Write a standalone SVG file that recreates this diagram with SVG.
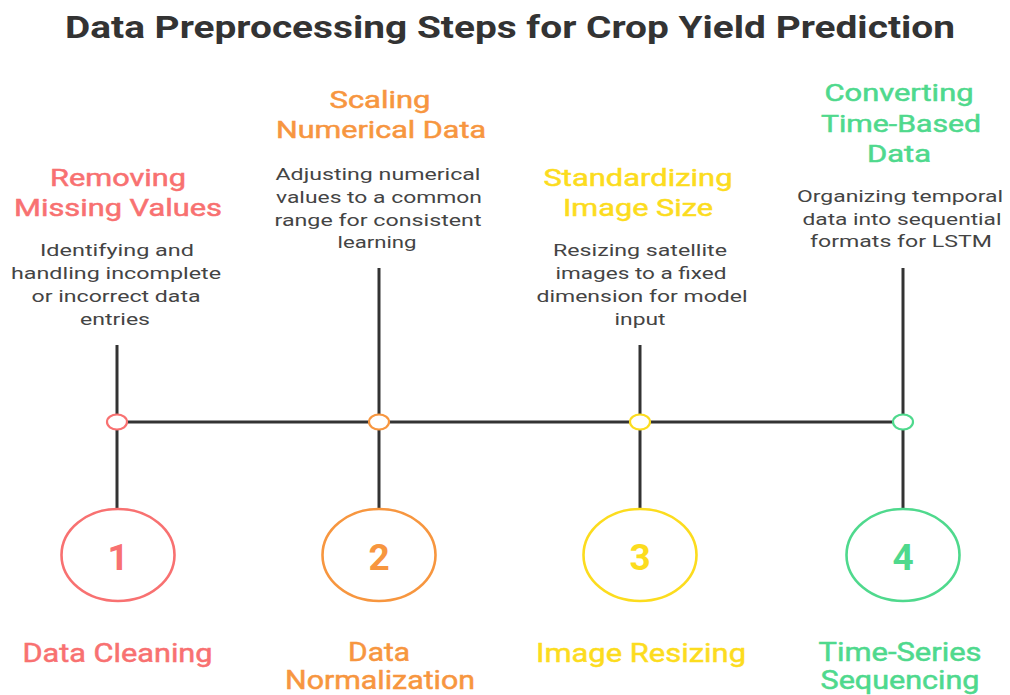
<svg xmlns="http://www.w3.org/2000/svg" width="1010" height="695" viewBox="0 0 1010 695">
  <style>
    .title { font-family: Roboto, "Liberation Sans", sans-serif; font-weight: 700; font-size: 31px; fill: #333333; }
    .head { font-family: Roboto, "Liberation Sans", sans-serif; font-weight: 400; font-size: 23px; text-anchor: middle; stroke-width: 0.5; }
    .desc { font-family: Roboto, "Liberation Sans", sans-serif; font-weight: 400; font-size: 17px; fill: #444444; text-anchor: middle; }
    .label { font-family: Roboto, "Liberation Sans", sans-serif; font-weight: 400; font-size: 25px; text-anchor: middle; stroke-width: 0.5; }
    .num { font-family: Roboto, "Liberation Sans", sans-serif; font-weight: 700; font-size: 37px; text-anchor: middle; }
    .wire { stroke: #333333; stroke-width: 3; fill: none; }
    .dot { fill: #ffffff; stroke-width: 2.2; }
    .ring { fill: #ffffff; stroke-width: 2.6; }
    .c1 { fill: #F87171; } .s1 { stroke: #F87171; }
    .c2 { fill: #F7963F; } .s2 { stroke: #F7963F; }
    .c3 { fill: #FCDC1E; } .s3 { stroke: #FCDC1E; }
    .c4 { fill: #4FD98D; } .s4 { stroke: #4FD98D; }
  </style>
  <rect width="1010" height="695" fill="#ffffff"/>

  <text class="title" x="510" y="38" text-anchor="middle" textLength="890" lengthAdjust="spacingAndGlyphs">Data Preprocessing Steps for Crop Yield Prediction</text>

  <!-- timeline and stems -->
  <g id="connectors">
    <line class="wire" x1="117" y1="422" x2="903" y2="422"/>
    <line class="wire" x1="117" y1="345" x2="117" y2="509"/>
    <line class="wire" x1="379" y1="268" x2="379" y2="509"/>
    <line class="wire" x1="640" y1="345" x2="640" y2="509"/>
    <line class="wire" x1="903" y1="268" x2="903" y2="509"/>
  </g>

  <!-- step 1 -->
  <g id="step1">
    <text class="head c1 s1" x="118" y="186" textLength="136" lengthAdjust="spacingAndGlyphs">Removing</text>
    <text class="head c1 s1" x="118" y="216" textLength="208" lengthAdjust="spacingAndGlyphs">Missing Values</text>
    <text class="desc" x="117" y="256" textLength="154" lengthAdjust="spacingAndGlyphs">Identifying and</text>
    <text class="desc" x="116" y="279" textLength="210" lengthAdjust="spacingAndGlyphs">handling incomplete</text>
    <text class="desc" x="116" y="302" textLength="169" lengthAdjust="spacingAndGlyphs">or incorrect data</text>
    <text class="desc" x="115" y="325" textLength="70" lengthAdjust="spacingAndGlyphs">entries</text>
    <ellipse class="dot s1" cx="117" cy="422" rx="10" ry="7.5"/>
    <ellipse class="ring s1" cx="118" cy="555" rx="56.5" ry="46"/>
    <text class="num c1" x="118" y="570">1</text>
    <text class="label c1 s1" x="117.5" y="662" textLength="190" lengthAdjust="spacingAndGlyphs">Data Cleaning</text>
  </g>

  <!-- step 2 -->
  <g id="step2">
    <text class="head c2 s2" x="380" y="108" textLength="101" lengthAdjust="spacingAndGlyphs">Scaling</text>
    <text class="head c2 s2" x="381" y="138" textLength="210" lengthAdjust="spacingAndGlyphs">Numerical Data</text>
    <text class="desc" x="378" y="180" textLength="205" lengthAdjust="spacingAndGlyphs">Adjusting numerical</text>
    <text class="desc" x="379" y="203" textLength="206" lengthAdjust="spacingAndGlyphs">values to a common</text>
    <text class="desc" x="378" y="226" textLength="207" lengthAdjust="spacingAndGlyphs">range for consistent</text>
    <text class="desc" x="377" y="248" textLength="79" lengthAdjust="spacingAndGlyphs">learning</text>
    <ellipse class="dot s2" cx="379" cy="422" rx="10" ry="7.5"/>
    <ellipse class="ring s2" cx="379" cy="555" rx="56.5" ry="46"/>
    <text class="num c2" x="379" y="570">2</text>
    <text class="label c2 s2" x="379" y="661" textLength="62" lengthAdjust="spacingAndGlyphs">Data</text>
    <text class="label c2 s2" x="380" y="689" textLength="190" lengthAdjust="spacingAndGlyphs">Normalization</text>
  </g>

  <!-- step 3 -->
  <g id="step3">
    <text class="head c3 s3" x="638" y="186" textLength="189" lengthAdjust="spacingAndGlyphs">Standardizing</text>
    <text class="head c3 s3" x="638" y="216" textLength="150" lengthAdjust="spacingAndGlyphs">Image Size</text>
    <text class="desc" x="640" y="256" textLength="174" lengthAdjust="spacingAndGlyphs">Resizing satellite</text>
    <text class="desc" x="641" y="279" textLength="171" lengthAdjust="spacingAndGlyphs">images to a fixed</text>
    <text class="desc" x="642" y="302" textLength="211" lengthAdjust="spacingAndGlyphs">dimension for model</text>
    <text class="desc" x="640" y="325" textLength="51" lengthAdjust="spacingAndGlyphs">input</text>
    <ellipse class="dot s3" cx="640" cy="422" rx="10" ry="7.5"/>
    <ellipse class="ring s3" cx="640" cy="555" rx="56.5" ry="46"/>
    <text class="num c3" x="640" y="570">3</text>
    <text class="label c3 s3" x="641" y="662" textLength="210" lengthAdjust="spacingAndGlyphs">Image Resizing</text>
  </g>

  <!-- step 4 -->
  <g id="step4">
    <text class="head c4 s4" x="899" y="101" textLength="149" lengthAdjust="spacingAndGlyphs">Converting</text>
    <text class="head c4 s4" x="901" y="132" textLength="160" lengthAdjust="spacingAndGlyphs">Time-Based</text>
    <text class="head c4 s4" x="899" y="162" textLength="64" lengthAdjust="spacingAndGlyphs">Data</text>
    <text class="desc" x="900" y="202" textLength="206" lengthAdjust="spacingAndGlyphs">Organizing temporal</text>
    <text class="desc" x="902" y="225" textLength="199" lengthAdjust="spacingAndGlyphs">data into sequential</text>
    <text class="desc" x="901" y="247" textLength="182" lengthAdjust="spacingAndGlyphs">formats for LSTM</text>
    <ellipse class="dot s4" cx="903" cy="422" rx="10" ry="7.5"/>
    <ellipse class="ring s4" cx="903" cy="555" rx="56.5" ry="46"/>
    <text class="num c4" x="903" y="570">4</text>
    <text class="label c4 s4" x="900" y="661" textLength="163" lengthAdjust="spacingAndGlyphs">Time-Series</text>
    <text class="label c4 s4" x="900" y="689" textLength="159" lengthAdjust="spacingAndGlyphs">Sequencing</text>
  </g>
</svg>
